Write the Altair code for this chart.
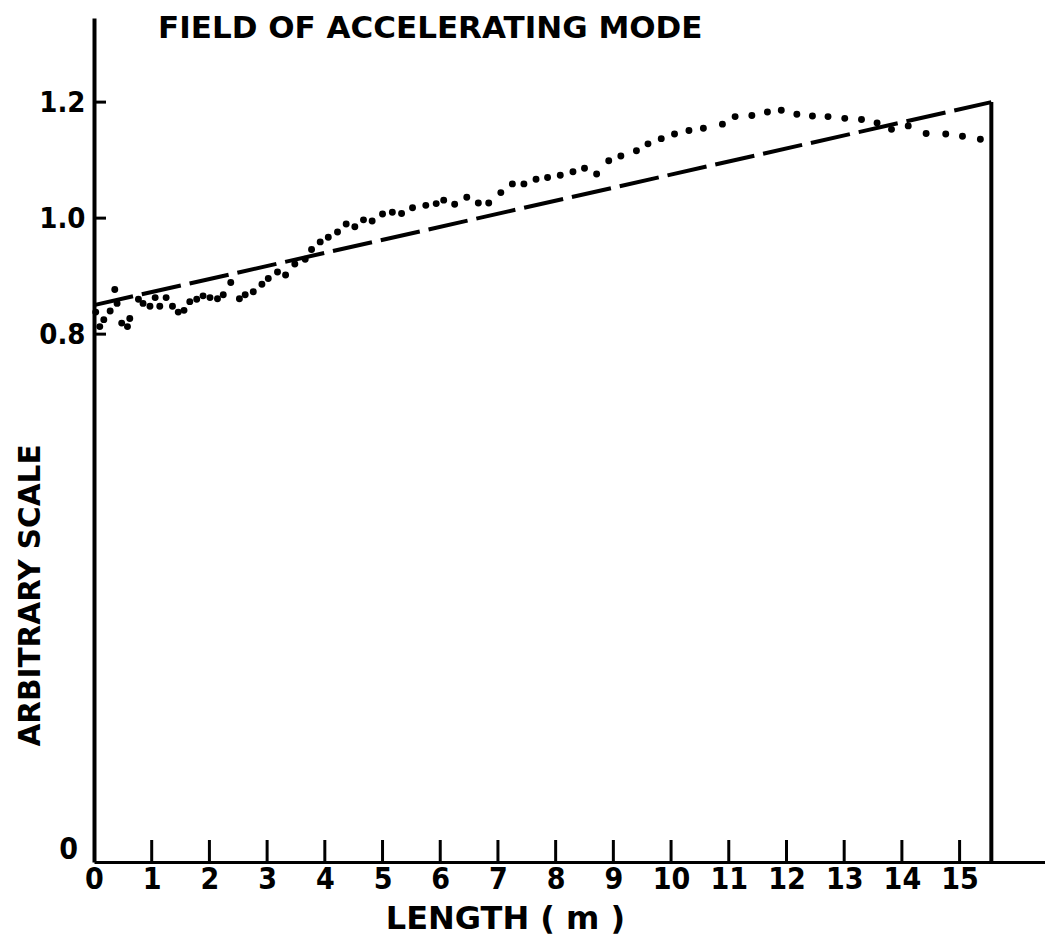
import altair as alt
import pandas as pd

# ---- data ----
dot_x = [0.03, 0.10, 0.17, 0.28, 0.36, 0.40, 0.48, 0.58, 0.62, 0.77, 0.85, 0.97, 1.06, 1.14,
         1.25, 1.36, 1.46, 1.56, 1.66, 1.78, 1.89, 2.01, 2.14, 2.24, 2.37, 2.52, 2.62, 2.76,
         2.91, 3.02, 3.18, 3.32, 3.48, 3.66, 3.77, 3.92, 4.06, 4.22, 4.37, 4.52, 4.67, 4.82,
         5.00, 5.17, 5.33, 5.52, 5.75, 5.93, 6.06, 6.25, 6.46, 6.66, 6.84, 7.05, 7.25, 7.45,
         7.66, 7.86, 8.08, 8.30, 8.50, 8.71, 8.92, 9.13, 9.40, 9.60, 9.83, 10.06, 10.31, 10.56,
         10.89, 11.11, 11.40, 11.67, 11.91, 12.18, 12.45, 12.72, 13.01, 13.30, 13.57, 13.82,
         14.11, 14.42, 14.76, 15.05, 15.36]
dot_y = [0.838, 0.813, 0.825, 0.840, 0.877, 0.853, 0.819, 0.813, 0.827, 0.860, 0.853, 0.848, 0.863, 0.848,
         0.863, 0.848, 0.838, 0.841, 0.856, 0.860, 0.866, 0.863, 0.861, 0.868, 0.889, 0.861, 0.868, 0.873,
         0.886, 0.896, 0.907, 0.902, 0.921, 0.929, 0.946, 0.959, 0.967, 0.976, 0.990, 0.985, 0.997, 0.995,
         1.007, 1.010, 1.008, 1.018, 1.022, 1.025, 1.031, 1.024, 1.036, 1.026, 1.026, 1.044, 1.059, 1.059,
         1.067, 1.070, 1.074, 1.080, 1.086, 1.076, 1.099, 1.107, 1.116, 1.128, 1.137, 1.145, 1.151, 1.155,
         1.162, 1.175, 1.177, 1.183, 1.186, 1.179, 1.176, 1.175, 1.172, 1.170, 1.164, 1.153,
         1.159, 1.146, 1.145, 1.141, 1.136]

line_x = [0.0, 15.55]
line_y = [0.850, 1.200]

x_ticks = list(range(0, 16))
x_inner_ticks = list(range(1, 16))
y_ticks = [0.8, 1.0, 1.2]
y_bottom = -0.110   # position drawn as "0" on the broken axis
y_top = 1.345
x_max = 16.48
x_end = 15.55

title_text = "FIELD OF ACCELERATING MODE"
x_title = "LENGTH ( m )"
y_title = "ARBITRARY SCALE"

NUM_FONT = "Liberation Sans Narrow, DejaVu Sans Condensed, DejaVu Sans"
TXT_FONT = "DejaVu Sans"

dots = pd.DataFrame({"x": dot_x, "y": dot_y})
line = pd.DataFrame({"x": line_x, "y": line_y})
xt = pd.DataFrame({"x": x_inner_ticks, "y": [y_bottom] * len(x_inner_ticks)})
yt = pd.DataFrame({"x": [0.0] * len(y_ticks), "y": y_ticks})
edge = pd.DataFrame({"x": [x_end], "y": [y_bottom], "y2": [line_y[-1]]})
zero = pd.DataFrame({"x": [0.0], "y": [y_bottom], "t": ["0"]})

xs = alt.Scale(domain=[0, x_max], nice=False, zero=False)
ys = alt.Scale(domain=[y_bottom, y_top], nice=False, zero=False)

x_axis = alt.Axis(values=x_ticks, ticks=False, tickSize=0, grid=False, labelFont=NUM_FONT,
                  labelFontWeight="bold", labelFontSize=30, labelPadding=2, labelColor="black",
                  labelExpr="format(datum.value, 'd')",
                  domainColor="black", domainWidth=3, title=x_title, titleFont=TXT_FONT,
                  titleFontWeight="bold", titleFontSize=32, titleColor="black",
                  titleX=411, titleY=66, titleBaseline="alphabetic", titleAlign="center",
                  labelFlush=False, labelOverlap=False)
y_axis = alt.Axis(values=y_ticks, ticks=False, tickSize=0, grid=False, labelFont=NUM_FONT,
                  labelFontWeight="bold", labelFontSize=29, labelPadding=9, labelColor="black",
                  labelExpr="format(datum.value, '.1f')",
                  domainColor="black", domainWidth=4, title=y_title, titleFont=TXT_FONT,
                  titleFontWeight="bold", titleFontSize=29.5, titleColor="black",
                  titleAngle=270, titleX=-64, titleY=577, titleBaseline="middle",
                  titleAlign="center", labelFlush=False, labelOverlap=False)

base_x = alt.X("x:Q", scale=xs, axis=x_axis)
base_y = alt.Y("y:Q", scale=ys, axis=y_axis)
px = alt.X("x:Q", scale=xs)
py = alt.Y("y:Q", scale=ys)

pts = alt.Chart(dots).mark_circle(size=48, color="black", opacity=1).encode(x=base_x, y=base_y)

dashed = alt.Chart(line).mark_line(color="black", strokeWidth=4, strokeDash=[40, 9]).encode(
    x=px, y=py)

edge_rule = alt.Chart(edge).mark_rule(color="black", strokeWidth=4).encode(
    x=px, y=py, y2="y2:Q")

xtick_marks = alt.Chart(xt).mark_tick(orient="vertical", size=22, thickness=3, color="black",
                                      yOffset=-11, opacity=1).encode(x=px, y=py)

ytick_marks = alt.Chart(yt).mark_tick(orient="horizontal", size=12, thickness=3, color="black",
                                      xOffset=6, opacity=1).encode(x=px, y=py)

zero_lbl = alt.Chart(zero).mark_text(font=NUM_FONT, fontWeight="bold", fontSize=30, color="black",
                                     align="right", baseline="middle", dx=-16, dy=-12).encode(
    x=px, y=py, text="t:N")

chart = alt.layer(pts, dashed, edge_rule, xtick_marks, ytick_marks, zero_lbl).properties(
    width=951, height=844,
    autosize=alt.AutoSizeParams(type="none"),
    padding={"left": 86, "top": 10, "right": 0, "bottom": 74},
    title=alt.TitleParams(title_text, anchor="start", frame="group", offset=0, dx=64, dy=51,
                          baseline="alphabetic", font=TXT_FONT, fontWeight="bold", fontSize=31,
                          color="black"),
).configure(background="white").configure_view(strokeWidth=0, stroke="transparent")

chart.save("out.html", embed_options={"renderer": "svg", "actions": False})
